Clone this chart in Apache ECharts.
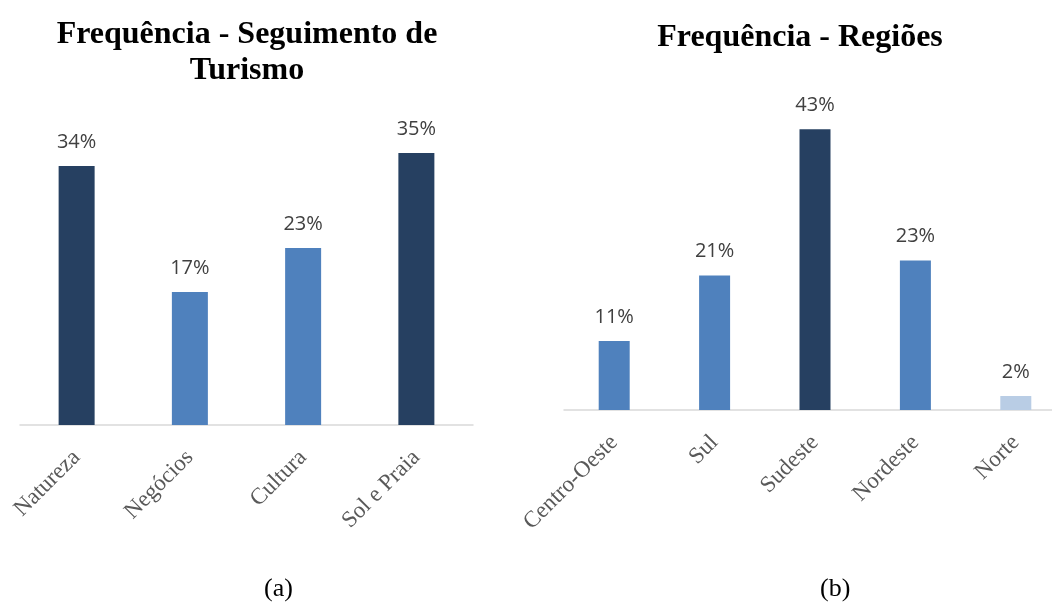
<!DOCTYPE html>
<html>
<head>
<meta charset="utf-8">
<script src="https://cdn.jsdelivr.net/npm/echarts@6/dist/echarts.min.js"></script>
<style>
  html, body { margin: 0; padding: 0; background: #fff; overflow: hidden; }
  #chart { width: 1070px; height: 604px; }
</style>
</head>
<body>
<div id="chart"></div>
<script>
var segmentos = ['Natureza', 'Negócios', 'Cultura', 'Sol e Praia'];
var segmentosPct = [33.6, 17.25, 22.96, 35.28];
var regioes = ['Centro-Oeste', 'Sul', 'Sudeste', 'Nordeste', 'Norte'];
var regioesPct = [10.6, 20.7, 43.2, 23.0, 2.15];

(function () {
  var dark = '#264061';
  var mid = '#4F81BD';
  var light = '#B9CDE5';
  var serif = '"Liberation Serif", "DejaVu Serif", serif';
  var sans = '"Open Sans", "Liberation Sans", sans-serif';

  var segColors = [dark, mid, mid, dark];
  var regColors = [mid, mid, dark, mid, light];

  function catAxis(idx, data) {
    return {
      type: 'category',
      gridIndex: idx,
      data: data,
      axisLine: { lineStyle: { color: '#D9D9D9', width: 1.5 } },
      axisTick: { show: false },
      axisLabel: {
        rotate: 45,
        margin: 29,
        interval: 0,
        color: '#595959',
        fontFamily: serif,
        fontSize: 23
      }
    };
  }

  function valAxis(idx, max) {
    return {
      type: 'value',
      gridIndex: idx,
      min: 0,
      max: max,
      show: false,
      splitLine: { show: false }
    };
  }

  function barSeries(idx, values, colors, width) {
    return {
      type: 'bar',
      xAxisIndex: idx,
      yAxisIndex: idx,
      barWidth: width,
      data: values,
      itemStyle: {
        color: function (p) { return colors[p.dataIndex]; }
      },
      label: {
        show: true,
        position: 'top',
        distance: 14,
        color: '#404040',
        fontFamily: sans,
        fontSize: 20,
        formatter: function (p) { return Math.round(p.value) + '%'; }
      }
    };
  }

  var chart = echarts.init(document.getElementById('chart'), null, { renderer: 'canvas' });
  chart.setOption({
    animation: false,
    backgroundColor: '#fff',
    title: [{
      text: 'Frequência - Seguimento de\nTurismo',
      left: 242,
      top: 12,
      textAlign: 'center',
      textStyle: { fontFamily: serif, fontWeight: 'bold', fontSize: 32, color: '#000', lineHeight: 36 }
    }, {
      text: 'Frequência - Regiões',
      left: 795,
      top: 17,
      textAlign: 'center',
      textStyle: { fontFamily: serif, fontWeight: 'bold', fontSize: 32, color: '#000' }
    }],
    grid: [
      { left: 20, width: 453, top: 116.6, bottom: 179 },
      { left: 564, width: 502, top: 85, bottom: 194 }
    ],
    xAxis: [catAxis(0, segmentos), catAxis(1, regioes)],
    yAxis: [valAxis(0, 40), valAxis(1, 50)],
    series: [
      barSeries(0, segmentosPct, segColors, 36),
      barSeries(1, regioesPct, regColors, 31)
    ],
    graphic: [{
      type: 'text',
      left: 264,
      top: 576,
      style: { text: '(a)', font: '26px ' + serif, fill: '#000' }
    }, {
      type: 'text',
      left: 820,
      top: 576,
      style: { text: '(b)', font: '26px ' + serif, fill: '#000' }
    }]
  });
})();
</script>
</body>
</html>
